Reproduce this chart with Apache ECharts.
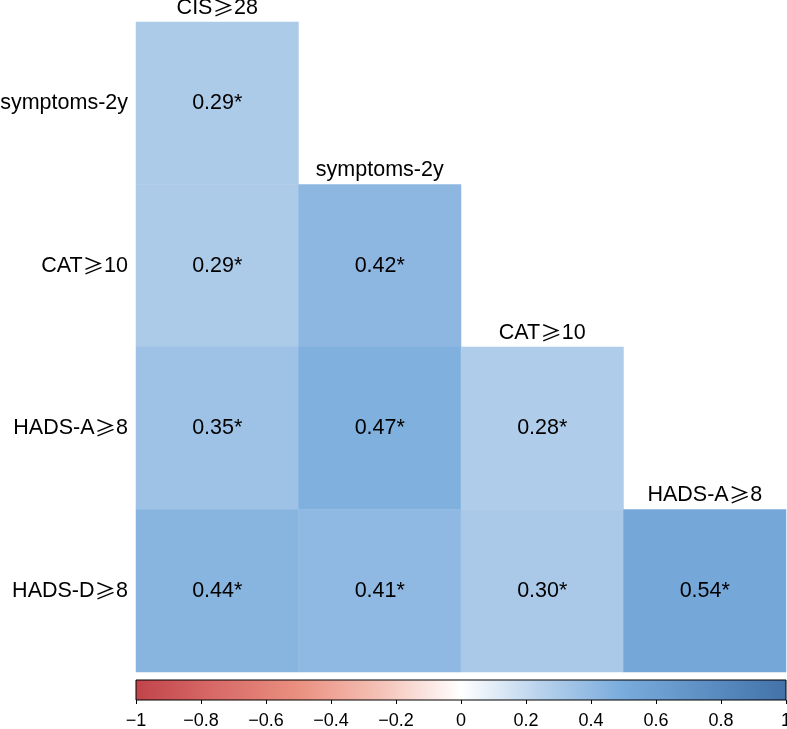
<!DOCTYPE html>
<html>
<head>
<meta charset="utf-8">
<script src="https://cdn.jsdelivr.net/npm/echarts@6/dist/echarts.min.js"></script>
<style>
  html, body { margin: 0; padding: 0; background: #fff; }
  #chart { width: 787px; height: 729px; }
</style>
</head>
<body>
<div id="chart"></div>
<script>
// 变量名
const colNames = ['CIS≥28', 'symptoms-2y', 'CAT≥10', 'HADS-A≥8'];
const rowNames = ['symptoms-2y', 'CAT≥10', 'HADS-A≥8', 'HADS-D≥8'];

// 相关系数（下三角，按行）
const corrRows = [
    [0.29],
    [0.29, 0.42],
    [0.35, 0.47, 0.28],
    [0.44, 0.41, 0.30, 0.54]
];
const sigMark = '*';

// 色标
const scaleTicks = [-1, -0.8, -0.6, -0.4, -0.2, 0, 0.2, 0.4, 0.6, 0.8, 1];
const scaleColors = ['#c0444a', '#d86b68', '#ea9080', '#f4c1b6', '#ffffff',
                     '#b6d1ec', '#79abdc', '#5d8fc4', '#4272a8'];

const FONT = "'Liberation Sans', Arial, Helvetica, sans-serif";
const FS = 21.5;

// ≥ 用中文字体显示
function richText(s) {
    return s.replace(/≥/g, '{g|≥}');
}
const geRich = { g: { fontFamily: "'Noto Sans CJK SC'", fontSize: FS, color: '#000' } };

const cellData = [];
corrRows.forEach((row, i) => {
    row.forEach((v, j) => cellData.push([j, i, v]));
});
const diagData = colNames.map((_, j) => [j, j, 0]);

const chart = echarts.init(document.getElementById('chart'));
chart.setOption({
    backgroundColor: '#fff',
    animation: false,
    textStyle: { fontFamily: FONT },
    grid: [
        { left: 136, top: 22, width: 650, height: 650, outerBoundsMode: 'none' },
        {
            left: 136, top: 680, width: 650, height: 20, outerBoundsMode: 'none',
            show: true, borderColor: '#000', borderWidth: 1,
            backgroundColor: new echarts.graphic.LinearGradient(0, 0, 1, 0,
                scaleColors.map((c, i) => ({ offset: i / (scaleColors.length - 1), color: c })))
        }
    ],
    xAxis: [
        { type: 'category', gridIndex: 0, data: colNames, show: false },
        {
            type: 'value', gridIndex: 1, min: scaleTicks[0], max: scaleTicks[scaleTicks.length - 1],
            interval: 0.2,
            axisLine: { show: false },
            splitLine: { show: false },
            axisTick: { show: true, length: 4, lineStyle: { color: '#000', width: 1 } },
            axisLabel: {
                color: '#000', fontSize: 18, margin: 12, fontFamily: FONT,
                formatter: v => String(Math.round(v * 10) / 10).replace('-', '−')
            }
        }
    ],
    yAxis: [
        {
            type: 'category', gridIndex: 0, data: rowNames, inverse: true,
            axisLine: { show: false }, axisTick: { show: false }, splitLine: { show: false },
            axisLabel: {
                color: '#000', fontSize: FS, margin: 8, fontFamily: FONT,
                formatter: richText, rich: geRich
            }
        },
        { type: 'value', gridIndex: 1, show: false }
    ],
    visualMap: {
        show: false,
        type: 'continuous',
        min: -1,
        max: 1,
        seriesIndex: 0,
        inRange: { color: scaleColors }
    },
    series: [
        {
            type: 'heatmap',
            xAxisIndex: 0,
            yAxisIndex: 0,
            data: cellData,
            label: {
                show: true,
                color: '#000',
                fontSize: FS,
                fontFamily: FONT,
                formatter: p => p.data[2].toFixed(2) + sigMark
            }
        },
        {
            type: 'heatmap',
            xAxisIndex: 0,
            yAxisIndex: 0,
            data: diagData,
            itemStyle: { color: 'rgba(0,0,0,0)' },
            label: {
                show: true,
                position: 'top',
                distance: 3,
                color: '#000',
                fontSize: FS,
                fontFamily: FONT,
                formatter: p => richText(colNames[p.data[0]]),
                rich: geRich
            },
            silent: true
        }
    ]
});
window.addEventListener('resize', () => chart.resize());
</script>
</body>
</html>
